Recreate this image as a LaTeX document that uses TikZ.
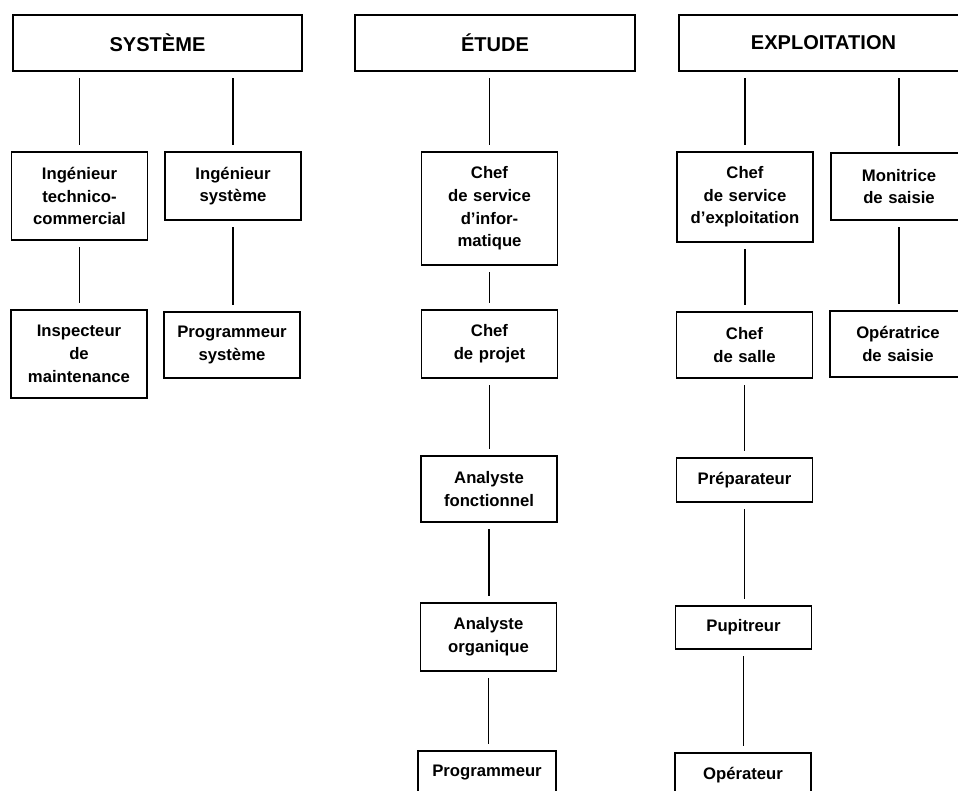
\documentclass[tikz,border=0pt]{standalone}
\usepackage{fontspec}
\setmainfont{Liberation Sans}
\usepackage{tikz}

\begin{document}
\begin{tikzpicture}[
  head/.style={draw=black, line width=1.1pt, minimum width=5.78cm, minimum height=1.12cm,
               font=\fontsize{11.4}{14}\selectfont\bfseries, inner sep=0pt},
  box/.style={draw=black, line width=1.1pt, align=center, inner sep=0pt,
              font=\fontsize{9.5}{12.9}\selectfont\bfseries,
              text width=2.6cm, minimum width=2.72cm},
  link/.style={black, line width=1.1pt, shorten >=0.13cm, shorten <=0.13cm}
]
\clip (0,0) rectangle (19.16,-15.82);
\useasboundingbox (0,0) rectangle (19.16,-15.82);
% headers
\node[head] (sys) at (3.15,-0.86) {SYSTÈME};
\node[head, minimum width=5.60cm] (etu) at (9.90,-0.86) {ÉTUDE};
\node[head] (exp) at (16.47,-0.86) {EXPLOITATION};
% systeme
\node[box, minimum height=1.76cm] (itc) at (1.59,-3.92) {Ingénieur\\technico-\\commercial};
\node[box, minimum height=1.36cm] (isy) at (4.66,-3.72) {Ingénieur\\système};
\node[box, minimum height=1.76cm] (ima) at (1.58,-7.08) {Inspecteur\\de\\maintenance};
\node[box, minimum height=1.32cm] (psy) at (4.64,-6.90) {Programmeur\\système};
% etude
\node[box, minimum height=2.26cm] (csi) at (9.79,-4.17) {Chef\\de service\\d’infor-\\matique};
\node[box, minimum height=1.36cm] (cpr) at (9.79,-6.88) {Chef\\de projet};
\node[box, minimum height=1.32cm] (afo) at (9.78,-9.78) {Analyste\\fonctionnel};
\node[box, minimum height=1.36cm] (aor) at (9.77,-12.74) {Analyste\\organique};
\node[box, minimum height=0.88cm, minimum width=2.76cm] (prg) at (9.74,-15.46) {Programmeur};
% exploitation
\node[box, minimum height=1.80cm] (cse) at (14.90,-3.94) {Chef\\de service\\d’exploitation};
\node[box, minimum height=1.34cm] (msa) at (17.98,-3.73) {Monitrice\\de saisie};
\node[box, minimum height=1.32cm] (csa) at (14.89,-6.90) {Chef\\de salle};
\node[box, minimum height=1.32cm] (osa) at (17.96,-6.88) {Opératrice\\de saisie};
\node[box, minimum height=0.88cm] (pre) at (14.89,-9.60) {Préparateur};
\node[box, minimum height=0.86cm] (pup) at (14.87,-12.55) {Pupitreur};
\node[box, minimum height=0.88cm] (ope) at (14.86,-15.50) {Opérateur};
% links
\draw[link] (itc.north |- sys.south) -- (itc.north);
\draw[link] (isy.north |- sys.south) -- (isy.north);
\draw[link] (itc.south) -- (itc.south |- ima.north);
\draw[link] (isy.south) -- (isy.south |- psy.north);
\draw[link] (csi.north |- etu.south) -- (csi.north);
\draw[link] (csi.south) -- (csi.south |- cpr.north);
\draw[link] (cpr.south) -- (cpr.south |- afo.north);
\draw[link] (afo.south) -- (afo.south |- aor.north);
\draw[link] (aor.south) -- (aor.south |- prg.north);
\draw[link] (cse.north |- exp.south) -- (cse.north);
\draw[link] (msa.north |- exp.south) -- (msa.north);
\draw[link] (cse.south) -- (cse.south |- csa.north);
\draw[link] (msa.south) -- (msa.south |- osa.north);
\draw[link] (csa.south) -- (csa.south |- pre.north);
\draw[link] (pre.south) -- (pre.south |- pup.north);
\draw[link] (pup.south) -- (pup.south |- ope.north);
\end{tikzpicture}
\end{document}
